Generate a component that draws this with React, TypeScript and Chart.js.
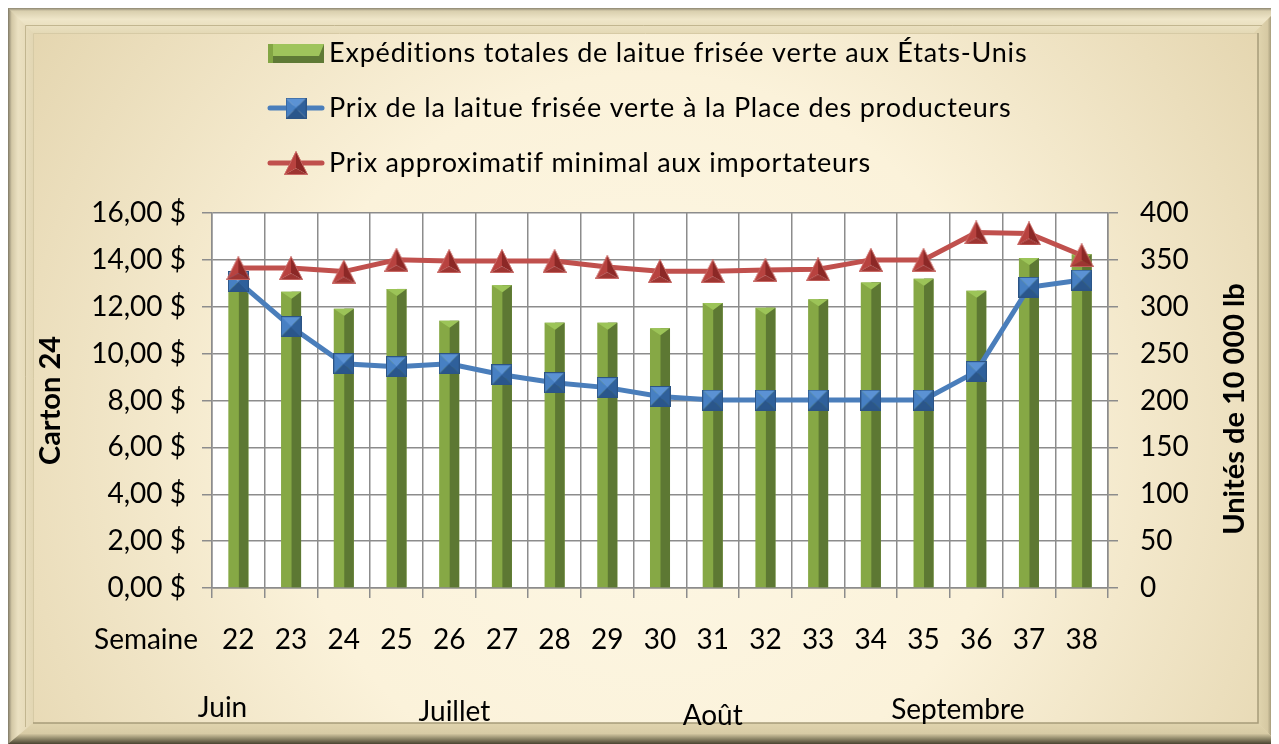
import React, { useEffect, useRef } from 'react';
import { Chart, registerables } from 'chart.js';

Chart.register(...registerables);

const weeks = ['22', '23', '24', '25', '26', '27', '28', '29', '30', '31', '32', '33', '34', '35', '36', '37', '38'];
const shipments = [325, 316, 298, 319, 285, 323, 283, 283, 277, 304, 299, 308, 326, 330, 317, 352, 356];
const producerPrice = [13.07, 11.15, 9.57, 9.44, 9.57, 9.1, 8.76, 8.55, 8.17, 8.02, 8.02, 8.02, 8.02, 8.02, 9.23, 12.83, 13.14];
const importerPrice = [13.65, 13.65, 13.5, 14.0, 13.95, 13.95, 13.95, 13.7, 13.52, 13.52, 13.57, 13.6, 14.0, 14.0, 15.17, 15.13, 14.2];
const seriesNames = [
  'Expéditions totales de laitue frisée verte aux États-Unis',
  'Prix de la laitue frisée verte à la Place des producteurs',
  'Prix approximatif minimal aux importateurs',
];
const monthLabels = ['Juin', 'Juillet', 'Août', 'Septembre'];
const monthWeeks = [21.7, 26.1, 31.0, 35.65];
const weekAxisLabel = 'Semaine';
const leftAxisTitle = 'Carton 24';
const rightAxisTitle = 'Unités de 10 000 lb';

const W = 1271;
const H = 736;
const FONT = 'Lato, "Open Sans", "DejaVu Sans", sans-serif';

function makeSquare(size: number): HTMLCanvasElement {
  const c = document.createElement('canvas');
  c.width = size;
  c.height = size;
  const g = c.getContext('2d')!;
  const s = size;
  const m = s / 2;
  const tri = (a: number[], b: number[], col: string) => {
    g.beginPath();
    g.moveTo(a[0], a[1]);
    g.lineTo(b[0], b[1]);
    g.lineTo(m, m);
    g.closePath();
    g.fillStyle = col;
    g.fill();
  };
  tri([0, 0], [s, 0], '#5b92d4');
  tri([0, 0], [0, s], '#4780c3');
  tri([s, 0], [s, s], '#2f609b');
  tri([0, s], [s, s], '#2a568b');
  g.strokeStyle = '#2c5485';
  g.lineWidth = 1;
  g.strokeRect(0.5, 0.5, s - 1, s - 1);
  return c;
}

function makeTriangle(w: number, h: number): HTMLCanvasElement {
  const c = document.createElement('canvas');
  c.width = w;
  c.height = h;
  const g = c.getContext('2d')!;
  const cx = w / 2;
  const cy = h * 0.72;
  const poly = (pts: number[][], col: string) => {
    g.beginPath();
    g.moveTo(pts[0][0], pts[0][1]);
    for (let i = 1; i < pts.length; i++) g.lineTo(pts[i][0], pts[i][1]);
    g.closePath();
    g.fillStyle = col;
    g.fill();
  };
  poly([[cx, 0], [0, h], [cx, cy]], '#b8423f');
  poly([[cx, 0], [cx, cy], [w, h]], '#8c2826');
  poly([[0, h], [w, h], [cx, cy]], '#9e3532');
  g.strokeStyle = 'rgba(205,110,105,0.9)';
  g.lineWidth = 1;
  g.beginPath();
  g.moveTo(cx, 0.5);
  g.lineTo(0.5, h - 0.5);
  g.lineTo(w - 0.5, h - 0.5);
  g.closePath();
  g.stroke();
  return c;
}

export default function App() {
  const ref = useRef<HTMLCanvasElement>(null);

  useEffect(() => {
    document.body.style.overflow = 'hidden';
    const canvas = ref.current!;
    const square = makeSquare(21);
    const triangle = makeTriangle(24, 24);

    const framePlugin = {
      id: 'frame',
      beforeDraw(chart: any) {
        const ctx = chart.ctx as CanvasRenderingContext2D;
        ctx.save();
        ctx.fillStyle = '#e3d6b1';
        ctx.fillRect(0, 0, W, H);
        let g = ctx.createLinearGradient(0, 0, 25, 0);
        g.addColorStop(0, '#7f7966');
        g.addColorStop(0.15, '#d3c8a6');
        g.addColorStop(0.4, '#ebe1c2');
        g.addColorStop(1, '#e2d6b3');
        ctx.fillStyle = g;
        ctx.fillRect(0, 0, 25, H);
        g = ctx.createLinearGradient(0, 0, 0, 25);
        g.addColorStop(0, '#8c8671');
        g.addColorStop(0.12, '#d9cfae');
        g.addColorStop(0.45, '#efe6c9');
        g.addColorStop(1, '#e4d9b6');
        ctx.fillStyle = g;
        ctx.beginPath();
        ctx.moveTo(0, 0);
        ctx.lineTo(W, 0);
        ctx.lineTo(W - 25, 25);
        ctx.lineTo(25, 25);
        ctx.closePath();
        ctx.fill();
        g = ctx.createLinearGradient(W - 21, 0, W, 0);
        g.addColorStop(0, '#e0d4ae');
        g.addColorStop(0.45, '#d6c9a3');
        g.addColorStop(0.7, '#8f8769');
        g.addColorStop(1, '#48432f');
        ctx.fillStyle = g;
        ctx.beginPath();
        ctx.moveTo(W - 25, 25);
        ctx.lineTo(W, 0);
        ctx.lineTo(W, H);
        ctx.lineTo(W - 25, H - 25);
        ctx.closePath();
        ctx.fill();
        g = ctx.createLinearGradient(0, H - 21, 0, H);
        g.addColorStop(0, '#e0d4ae');
        g.addColorStop(0.5, '#d8cba5');
        g.addColorStop(0.75, '#8f8769');
        g.addColorStop(1, '#4a4431');
        ctx.fillStyle = g;
        ctx.beginPath();
        ctx.moveTo(25, H - 21);
        ctx.lineTo(W - 21, H - 21);
        ctx.lineTo(W, H);
        ctx.lineTo(0, H);
        ctx.closePath();
        ctx.fill();
        ctx.strokeStyle = '#c2b690';
        ctx.lineWidth = 1;
        ctx.beginPath();
        ctx.moveTo(17.5, H - 17);
        ctx.lineTo(17.5, 17.5);
        ctx.lineTo(W - 17, 17.5);
        ctx.stroke();
        const rg = ctx.createRadialGradient(640, 430, 40, 640, 430, 760);
        rg.addColorStop(0, '#fdf7e4');
        rg.addColorStop(0.45, '#fbf2da');
        rg.addColorStop(1, '#e3d4ad');
        ctx.fillStyle = rg;
        ctx.fillRect(25, 25, 1225, 690);
        ctx.strokeStyle = '#d6caa5';
        ctx.beginPath();
        ctx.moveTo(25.5, 715);
        ctx.lineTo(25.5, 25.5);
        ctx.lineTo(1250, 25.5);
        ctx.stroke();
        ctx.strokeStyle = '#a79c7a';
        ctx.lineWidth = 1.5;
        ctx.beginPath();
        ctx.moveTo(1250, 25);
        ctx.lineTo(1250, 715);
        ctx.lineTo(25, 715);
        ctx.stroke();
        const ca = chart.chartArea;
        ctx.fillStyle = '#ffffff';
        ctx.fillRect(ca.left, ca.top, ca.right - ca.left, ca.bottom - ca.top);
        ctx.restore();
      },
    };

    const barShading = {
      id: 'barShading',
      afterDatasetDraw(chart: any, args: any) {
        if (args.index !== 0) return;
        const meta = chart.getDatasetMeta(0);
        const ctx = chart.ctx as CanvasRenderingContext2D;
        ctx.save();
        meta.data.forEach((el: any) => {
          const p = el.getProps(['x', 'y', 'base', 'width'], true);
          const l = p.x - p.width / 2;
          const r = p.x + p.width / 2;
          ctx.fillStyle = '#5d7833';
          ctx.fillRect(p.x + 0.5, p.y, r - p.x - 0.5, p.base - p.y);
          const cap = Math.min(7, p.base - p.y);
          ctx.beginPath();
          ctx.moveTo(l, p.y);
          ctx.lineTo(r, p.y);
          ctx.lineTo(p.x + 0.5, p.y + cap);
          ctx.closePath();
          ctx.fillStyle = '#9cc458';
          ctx.fill();
        });
        ctx.restore();
      },
    };

    const textPlugin = {
      id: 'extraText',
      afterDraw(chart: any) {
        const ctx = chart.ctx as CanvasRenderingContext2D;
        const x = chart.scales.x;
        ctx.save();
        ctx.fillStyle = '#000';
        ctx.font = `28px ${FONT}`;
        ctx.textAlign = 'right';
        ctx.textBaseline = 'middle';
        ctx.fillText(weekAxisLabel, chart.chartArea.left - 14, 632);
        const dy = [700, 704, 708, 702];
        ctx.textAlign = 'center';
        monthLabels.forEach((m, i) => {
          const px = x.getPixelForValue(monthWeeks[i] - Number(weeks[0]));
          ctx.fillText(m, px, dy[i]);
        });
        ctx.font = `bold 29px ${FONT}`;
        ctx.translate(1227, 401);
        ctx.rotate(-Math.PI / 2);
        ctx.textAlign = 'center';
        ctx.fillText(rightAxisTitle, 0, 0);
        ctx.restore();

        ctx.save();
        const mx0 = 260;
        const mx1 = 316;
        const rows = [45, 100, 155];
        ctx.fillStyle = '#5f7a36';
        ctx.fillRect(mx0, rows[0] - 9, mx1 - mx0, 19);
        ctx.fillStyle = '#9fc45c';
        ctx.beginPath();
        ctx.moveTo(mx0, rows[0] - 9);
        ctx.lineTo(mx1, rows[0] - 9);
        ctx.lineTo(mx1 - 5, rows[0] + 3);
        ctx.lineTo(mx0 + 5, rows[0] + 3);
        ctx.closePath();
        ctx.fill();
        ctx.fillStyle = '#83a644';
        ctx.fillRect(mx0, rows[0] - 9, 5, 19);
        const lineRow = (yy: number, col: string, img: HTMLCanvasElement) => {
          ctx.strokeStyle = col;
          ctx.lineWidth = 5;
          ctx.lineCap = 'round';
          ctx.beginPath();
          ctx.moveTo(mx0 + 2, yy);
          ctx.lineTo(mx1 - 2, yy);
          ctx.stroke();
          ctx.drawImage(img, (mx0 + mx1) / 2 - img.width / 2, yy - img.height / 2);
        };
        lineRow(rows[1], '#4a7ebb', square);
        lineRow(rows[2], '#c0504d', triangle);
        ctx.fillStyle = '#000';
        ctx.font = `27px ${FONT}`;
        (ctx as any).letterSpacing = '0.8px';
        ctx.textAlign = 'left';
        ctx.textBaseline = 'middle';
        seriesNames.forEach((n, i) => ctx.fillText(n, 321, rows[i]));
        (ctx as any).letterSpacing = '0px';
        ctx.restore();
      },
    };

    const gridColor = '#8c8c8c';
    const tickFont = { family: FONT, size: 28 };

    const chart = new Chart(canvas, {
      type: 'bar',
      data: {
        labels: weeks,
        datasets: [
          {
            type: 'bar',
            label: seriesNames[0],
            data: shipments,
            yAxisID: 'y1',
            backgroundColor: '#86a845',
            borderWidth: 0,
            barPercentage: 0.38,
            categoryPercentage: 1,
            order: 3,
          },
          {
            type: 'line',
            label: seriesNames[1],
            data: producerPrice,
            yAxisID: 'y',
            borderColor: '#4a7ebb',
            borderWidth: 5,
            pointStyle: square,
            pointRadius: 10,
            tension: 0,
            order: 2,
          },
          {
            type: 'line',
            label: seriesNames[2],
            data: importerPrice,
            yAxisID: 'y',
            borderColor: '#c0504d',
            borderWidth: 5,
            pointStyle: triangle,
            pointRadius: 10,
            tension: 0,
            order: 1,
          },
        ] as any,
      },
      options: {
        responsive: false,
        animation: false,
        devicePixelRatio: 1,
        layout: { padding: { top: 205, left: 25, right: 21, bottom: 21 } },
        plugins: {
          legend: { display: false },
          tooltip: { enabled: false },
          title: { display: false },
        },
        scales: {
          x: {
            offset: true,
            grid: { offset: true, color: gridColor, lineWidth: 1.5, tickLength: 10, drawTicks: true },
            border: { color: gridColor, width: 1.5 },
            ticks: { color: '#000', font: tickFont, padding: 25, maxRotation: 0, autoSkip: false },
            afterFit(scale: any) {
              scale.height = H - 21 - 580;
            },
          },
          y: {
            position: 'left',
            min: 0,
            max: 16,
            ticks: {
              stepSize: 2,
              color: '#000',
              font: tickFont,
              padding: 16,
              callback: (v: any) => Number(v).toFixed(2).replace('.', ',') + ' $',
            },
            grid: { color: gridColor, lineWidth: 1.5, tickLength: 10 },
            border: { color: gridColor, width: 1.5 },
            title: {
              display: true,
              text: leftAxisTitle,
              color: '#000',
              font: { family: FONT, size: 29, weight: 'bold' },
              padding: { top: 0, bottom: 0 },
            },
            afterFit(scale: any) {
              scale.width = 179;
            },
          },
          y1: {
            position: 'right',
            min: 0,
            max: 400,
            ticks: { stepSize: 50, color: '#000', font: tickFont, padding: 22 },
            grid: { drawOnChartArea: false, color: gridColor, lineWidth: 1.5, tickLength: 10 },
            border: { color: gridColor, width: 1.5 },
            afterFit(scale: any) {
              scale.width = 150;
            },
          },
        },
      } as any,
      plugins: [framePlugin, barShading, textPlugin],
    });
    return () => chart.destroy();
  }, []);

  return (
    <div style={{ width: W, height: H }}>
      <canvas ref={ref} width={W} height={H} style={{ display: 'block', width: W, height: H }} />
    </div>
  );
}
